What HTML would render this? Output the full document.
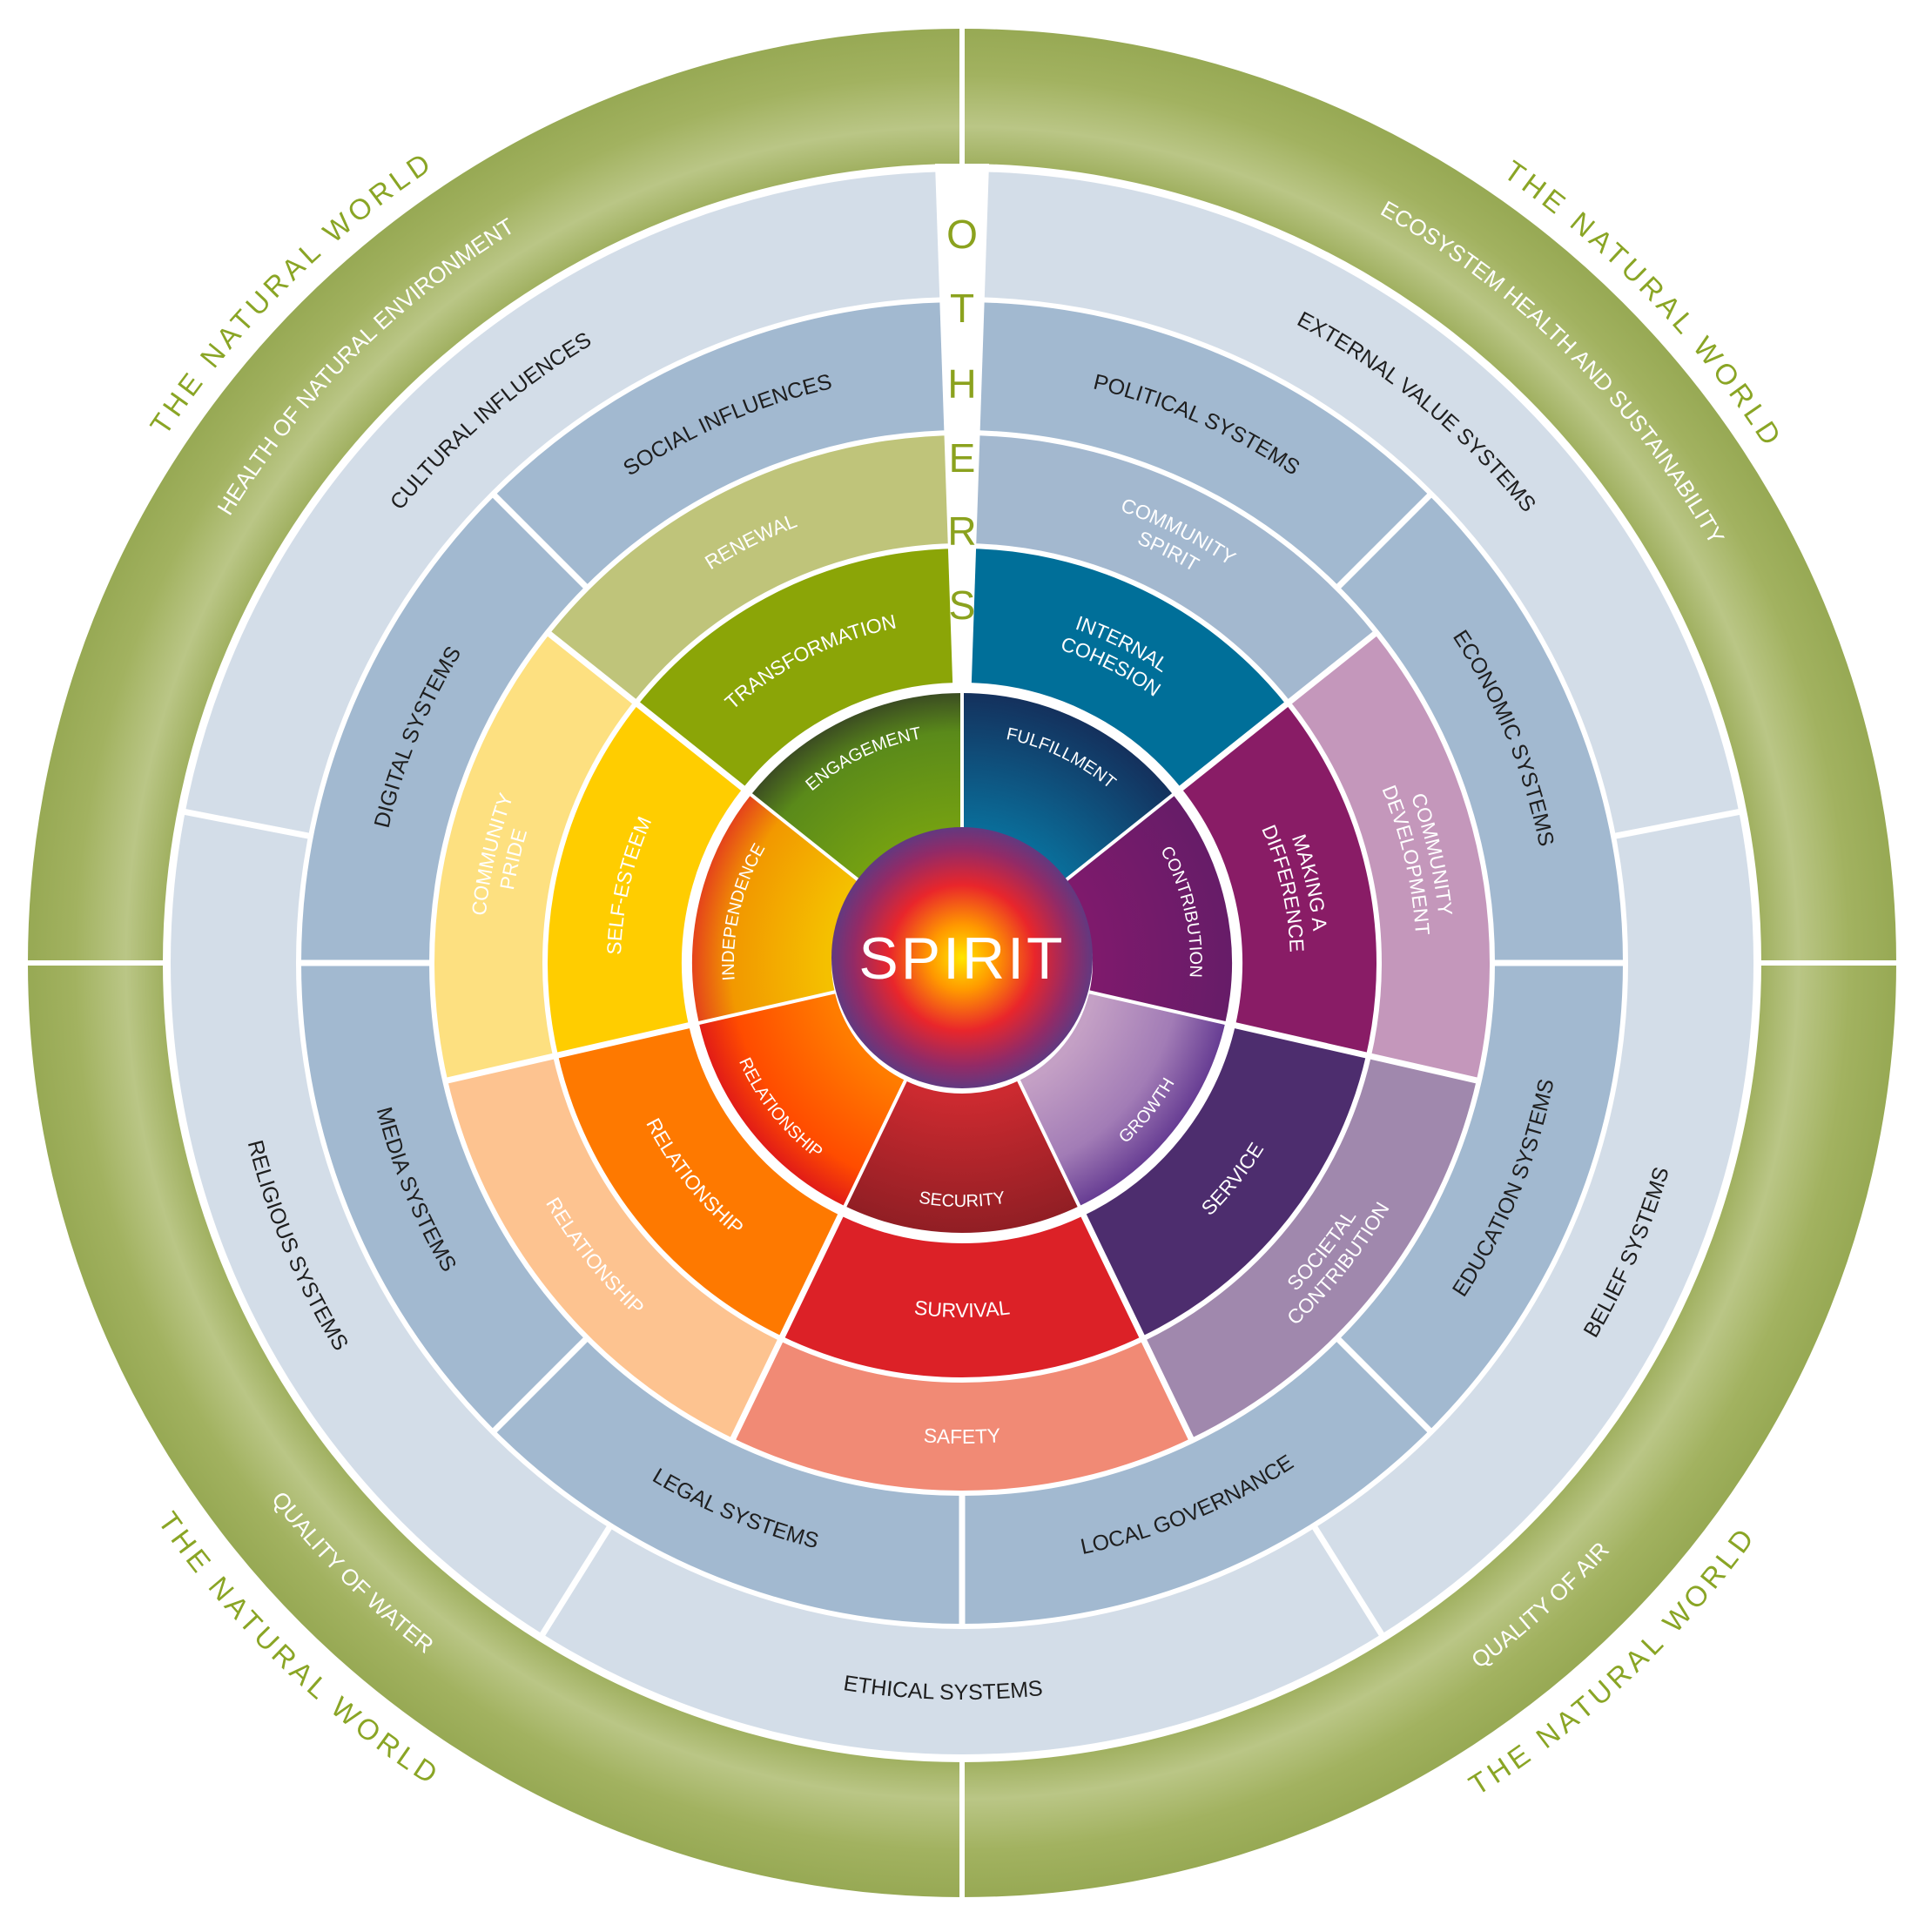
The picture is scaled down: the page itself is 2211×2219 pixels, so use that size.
<!DOCTYPE html>
<html><head><meta charset="utf-8">
<style>
html,body{margin:0;padding:0;background:#fff;}
svg{display:block;}
text{font-family:"Liberation Sans",sans-serif;}
</style></head>
<body>
<svg width="2211" height="2219" viewBox="0 0 2211 2219" xmlns="http://www.w3.org/2000/svg">
<defs>
<radialGradient id="gGreen" gradientUnits="userSpaceOnUse" cx="1105" cy="1106" r="1073">
<stop offset="0.855" stop-color="#a0b060"/><stop offset="0.895" stop-color="#bac686"/><stop offset="0.95" stop-color="#a2b260"/><stop offset="1" stop-color="#97a954"/>
</radialGradient>
<radialGradient id="gSpirit" gradientUnits="userSpaceOnUse" cx="1105" cy="1100" r="152">
<stop offset="0" stop-color="#ffe600"/><stop offset="0.25" stop-color="#ff9800"/><stop offset="0.55" stop-color="#e9262b"/><stop offset="0.82" stop-color="#932a66"/><stop offset="1" stop-color="#5e3a82"/>
</radialGradient>
<radialGradient id="gEng" gradientUnits="userSpaceOnUse" cx="1105" cy="1106" r="312"><stop offset="0.5" stop-color="#74a012"/><stop offset="0.85" stop-color="#5a8a1a"/><stop offset="1" stop-color="#3a4a22"/></radialGradient>
<radialGradient id="gFul" gradientUnits="userSpaceOnUse" cx="1105" cy="1106" r="312"><stop offset="0.5" stop-color="#0a6d99"/><stop offset="1" stop-color="#14305c"/></radialGradient>
<radialGradient id="gCon" gradientUnits="userSpaceOnUse" cx="1105" cy="1106" r="312"><stop offset="0.5" stop-color="#7e1a6c"/><stop offset="1" stop-color="#661c68"/></radialGradient>
<radialGradient id="gGro" gradientUnits="userSpaceOnUse" cx="1105" cy="1106" r="312"><stop offset="0.5" stop-color="#c4a0c5"/><stop offset="0.8" stop-color="#a27cb6"/><stop offset="1" stop-color="#653b92"/></radialGradient>
<radialGradient id="gSec" gradientUnits="userSpaceOnUse" cx="1105" cy="1106" r="312"><stop offset="0.5" stop-color="#cc2a30"/><stop offset="1" stop-color="#901e24"/></radialGradient>
<radialGradient id="gRel" gradientUnits="userSpaceOnUse" cx="1105" cy="1106" r="312"><stop offset="0.5" stop-color="#ff7c00"/><stop offset="0.85" stop-color="#ff4c00"/><stop offset="1" stop-color="#e01a18"/></radialGradient>
<radialGradient id="gInd" gradientUnits="userSpaceOnUse" cx="1105" cy="1106" r="312"><stop offset="0.5" stop-color="#f4c000"/><stop offset="0.85" stop-color="#f29800"/><stop offset="1" stop-color="#e4401c"/></radialGradient>

<path id="cw1097" d="M 8 1106 A 1097 1097 0 0 1 2202 1106"/>
<path id="cw985" d="M 120 1106 A 985 985 0 0 1 2090 1106"/>
<path id="cw828" d="M 277 1106 A 828 828 0 0 1 1933 1106"/>
<path id="cw677" d="M 428 1106 A 677 677 0 0 1 1782 1106"/>
<path id="cw550" d="M 555 1106 A 550 550 0 0 1 1655 1106"/>
<path id="cw522" d="M 583 1106 A 522 522 0 0 1 1627 1106"/>
<path id="cw536" d="M 569 1106 A 536 536 0 0 1 1641 1106"/>
<path id="cw405" d="M 700 1106 A 405 405 0 0 1 1510 1106"/>
<path id="cw377" d="M 728 1106 A 377 377 0 0 1 1482 1106"/>
<path id="cw392" d="M 713 1106 A 392 392 0 0 1 1497 1106"/>
<path id="cw262" d="M 843 1106 A 262 262 0 0 1 1367 1106"/>
<path id="ccw1125" d="M -20 1106 A 1125 1125 0 0 0 2230 1106"/>
<path id="ccw1005" d="M 100 1106 A 1005 1005 0 0 0 2110 1106"/>
<path id="ccw846" d="M 259 1106 A 846 846 0 0 0 1951 1106"/>
<path id="ccw693" d="M 412 1106 A 693 693 0 0 0 1798 1106"/>
<path id="ccw552" d="M 553 1106 A 552 552 0 0 0 1657 1106"/>
<path id="ccw538" d="M 567 1106 A 538 538 0 0 0 1643 1106"/>
<path id="ccw566" d="M 539 1106 A 566 566 0 0 0 1671 1106"/>
<path id="ccw407" d="M 698 1106 A 407 407 0 0 0 1512 1106"/>
<path id="ccw280" d="M 825 1106 A 280 280 0 0 0 1385 1106"/>
</defs>

<rect width="2211" height="2219" fill="#fff"/>

<circle cx="1105" cy="1106" r="995.5" fill="none" stroke="url(#gGreen)" stroke-width="155"/>
<g stroke="#fff" stroke-width="6">
<line x1="1105" y1="196" x2="1105" y2="20"/>
<line x1="1105" y1="2016" x2="1105" y2="2195"/>
<line x1="15" y1="1106" x2="195" y2="1106"/>
<line x1="2015" y1="1106" x2="2200" y2="1106"/>
</g>

<circle cx="1105" cy="1106" r="837" fill="none" stroke="#d3dde8" stroke-width="144"/>
<circle cx="1105" cy="1106" r="685.5" fill="none" stroke="#a2b9d0" stroke-width="147"/>

<g fill="none" stroke-width="124">
<circle cx="1105" cy="1106" r="544" pathLength="360" stroke-dasharray="51.6 308.4" transform="rotate(-90 1105 1106)" stroke="#a3b8cf"/>
<circle cx="1105" cy="1106" r="544" pathLength="360" stroke-dasharray="51.6 308.4" transform="rotate(-38.57 1105 1106)" stroke="#c497bb"/>
<circle cx="1105" cy="1106" r="544" pathLength="360" stroke-dasharray="51.6 308.4" transform="rotate(12.86 1105 1106)" stroke="#a088ad"/>
<circle cx="1105" cy="1106" r="544" pathLength="360" stroke-dasharray="51.6 308.4" transform="rotate(64.29 1105 1106)" stroke="#f18a75"/>
<circle cx="1105" cy="1106" r="544" pathLength="360" stroke-dasharray="51.6 308.4" transform="rotate(115.71 1105 1106)" stroke="#fdc390"/>
<circle cx="1105" cy="1106" r="544" pathLength="360" stroke-dasharray="51.6 308.4" transform="rotate(167.14 1105 1106)" stroke="#fde080"/>
<circle cx="1105" cy="1106" r="544" pathLength="360" stroke-dasharray="51.6 308.4" transform="rotate(218.57 1105 1106)" stroke="#bfc47a"/>
</g>
<g fill="none" stroke-width="154">
<circle cx="1105" cy="1106" r="399" pathLength="360" stroke-dasharray="51.6 308.4" transform="rotate(-90 1105 1106)" stroke="#006f99"/>
<circle cx="1105" cy="1106" r="399" pathLength="360" stroke-dasharray="51.6 308.4" transform="rotate(-38.57 1105 1106)" stroke="#891c66"/>
<circle cx="1105" cy="1106" r="399" pathLength="360" stroke-dasharray="51.6 308.4" transform="rotate(12.86 1105 1106)" stroke="#4d2d6e"/>
<circle cx="1105" cy="1106" r="399" pathLength="360" stroke-dasharray="51.6 308.4" transform="rotate(64.29 1105 1106)" stroke="#dc2127"/>
<circle cx="1105" cy="1106" r="399" pathLength="360" stroke-dasharray="51.6 308.4" transform="rotate(115.71 1105 1106)" stroke="#fe7900"/>
<circle cx="1105" cy="1106" r="399" pathLength="360" stroke-dasharray="51.6 308.4" transform="rotate(167.14 1105 1106)" stroke="#ffcd00"/>
<circle cx="1105" cy="1106" r="399" pathLength="360" stroke-dasharray="51.6 308.4" transform="rotate(218.57 1105 1106)" stroke="#8ba507"/>
</g>

<g stroke="#fff" stroke-width="7">
<line x1="1105" y1="788" x2="1105" y2="497" transform="rotate(51.43 1105 1106)"/>
<line x1="1105" y1="788" x2="1105" y2="497" transform="rotate(102.86 1105 1106)"/>
<line x1="1105" y1="788" x2="1105" y2="497" transform="rotate(154.29 1105 1106)"/>
<line x1="1105" y1="788" x2="1105" y2="497" transform="rotate(205.71 1105 1106)"/>
<line x1="1105" y1="788" x2="1105" y2="497" transform="rotate(257.14 1105 1106)"/>
<line x1="1105" y1="788" x2="1105" y2="497" transform="rotate(308.57 1105 1106)"/>
<line x1="1105" y1="497" x2="1105" y2="344" transform="rotate(45 1105 1106)"/>
<line x1="1105" y1="497" x2="1105" y2="344" transform="rotate(90 1105 1106)"/>
<line x1="1105" y1="497" x2="1105" y2="344" transform="rotate(135 1105 1106)"/>
<line x1="1105" y1="497" x2="1105" y2="344" transform="rotate(180 1105 1106)"/>
<line x1="1105" y1="497" x2="1105" y2="344" transform="rotate(225 1105 1106)"/>
<line x1="1105" y1="497" x2="1105" y2="344" transform="rotate(270 1105 1106)"/>
<line x1="1105" y1="497" x2="1105" y2="344" transform="rotate(315 1105 1106)"/>
<line x1="1105" y1="344" x2="1105" y2="192" transform="rotate(79 1105 1106)"/>
<line x1="1105" y1="344" x2="1105" y2="192" transform="rotate(148 1105 1106)"/>
<line x1="1105" y1="344" x2="1105" y2="192" transform="rotate(212 1105 1106)"/>
<line x1="1105" y1="344" x2="1105" y2="192" transform="rotate(281 1105 1106)"/>
</g>
<polygon points="1105,1106 1074,188 1136,188" fill="#fff"/>
<circle cx="1105" cy="1106" r="321" fill="#fff"/>

<g fill="none" stroke-width="160">
<circle cx="1105" cy="1106" r="230" pathLength="360" stroke-dasharray="51.6 308.4" transform="rotate(-90 1105 1106)" stroke="url(#gFul)"/>
<circle cx="1105" cy="1106" r="230" pathLength="360" stroke-dasharray="51.6 308.4" transform="rotate(-38.57 1105 1106)" stroke="url(#gCon)"/>
<circle cx="1105" cy="1106" r="230" pathLength="360" stroke-dasharray="51.6 308.4" transform="rotate(12.86 1105 1106)" stroke="url(#gGro)"/>
<circle cx="1105" cy="1106" r="230" pathLength="360" stroke-dasharray="51.6 308.4" transform="rotate(64.29 1105 1106)" stroke="url(#gSec)"/>
<circle cx="1105" cy="1106" r="230" pathLength="360" stroke-dasharray="51.6 308.4" transform="rotate(115.71 1105 1106)" stroke="url(#gRel)"/>
<circle cx="1105" cy="1106" r="230" pathLength="360" stroke-dasharray="51.6 308.4" transform="rotate(167.14 1105 1106)" stroke="url(#gInd)"/>
<circle cx="1105" cy="1106" r="230" pathLength="360" stroke-dasharray="51.6 308.4" transform="rotate(218.57 1105 1106)" stroke="url(#gEng)"/>
</g>
<g stroke="#fff" stroke-width="4">
<line x1="1105" y1="960" x2="1105" y2="792"/>
<line x1="1105" y1="960" x2="1105" y2="792" transform="rotate(51.43 1105 1106)"/>
<line x1="1105" y1="960" x2="1105" y2="792" transform="rotate(102.86 1105 1106)"/>
<line x1="1105" y1="960" x2="1105" y2="792" transform="rotate(154.29 1105 1106)"/>
<line x1="1105" y1="960" x2="1105" y2="792" transform="rotate(205.71 1105 1106)"/>
<line x1="1105" y1="960" x2="1105" y2="792" transform="rotate(257.14 1105 1106)"/>
<line x1="1105" y1="960" x2="1105" y2="792" transform="rotate(308.57 1105 1106)"/>
</g>
<circle cx="1105" cy="1100" r="150" fill="url(#gSpirit)"/>
<text x="1105" y="1124" text-anchor="middle" font-size="68" fill="#fff" letter-spacing="3">SPIRIT</text>

<g font-size="46" fill="#8ba21e" text-anchor="middle">
<text x="1105" y="285">O</text>
<text x="1105" y="370">T</text>
<text x="1105" y="457">H</text>
<text x="1105" y="542">E</text>
<text x="1105" y="626">R</text>
<text x="1105" y="711">S</text>
</g>

<g font-size="33" fill="#8aa525" letter-spacing="5">
<g transform="rotate(-45 1105 1106)"><text><textPath href="#cw1097" startOffset="50%" text-anchor="middle">THE NATURAL WORLD</textPath></text></g>
<g transform="rotate(46 1105 1106)"><text><textPath href="#cw1097" startOffset="50%" text-anchor="middle">THE NATURAL WORLD</textPath></text></g>
<g transform="rotate(-43 1105 1106)"><text><textPath href="#ccw1125" startOffset="50%" text-anchor="middle">THE NATURAL WORLD</textPath></text></g>
<g transform="rotate(44 1105 1106)"><text><textPath href="#ccw1125" startOffset="50%" text-anchor="middle">THE NATURAL WORLD</textPath></text></g>
</g>

<g font-size="26" fill="#fff">
<g transform="rotate(-45 1105 1106)"><text><textPath href="#cw985" startOffset="50%" text-anchor="middle">HEALTH OF NATURAL ENVIRONMENT</textPath></text></g>
<g transform="rotate(45 1105 1106)"><text><textPath href="#cw985" startOffset="50%" text-anchor="middle">ECOSYSTEM HEALTH AND SUSTAINABILITY</textPath></text></g>
<g transform="rotate(-42 1105 1106)"><text><textPath href="#ccw1005" startOffset="50%" text-anchor="middle">QUALITY OF AIR</textPath></text></g>
<g transform="rotate(45 1105 1106)"><text><textPath href="#ccw1005" startOffset="50%" text-anchor="middle">QUALITY OF WATER</textPath></text></g>
</g>

<g font-size="25" fill="#1e1e1e">
<g transform="rotate(-41 1105 1106)"><text><textPath href="#cw828" startOffset="50%" text-anchor="middle">CULTURAL INFLUENCES</textPath></text></g>
<g transform="rotate(39.5 1105 1106)"><text><textPath href="#cw828" startOffset="50%" text-anchor="middle">EXTERNAL VALUE SYSTEMS</textPath></text></g>
<g transform="rotate(-66.5 1105 1106)"><text><textPath href="#ccw846" startOffset="50%" text-anchor="middle">BELIEF SYSTEMS</textPath></text></g>
<g transform="rotate(1.5 1105 1106)"><text><textPath href="#ccw846" startOffset="50%" text-anchor="middle">ETHICAL SYSTEMS</textPath></text></g>
<g transform="rotate(67 1105 1106)"><text><textPath href="#ccw846" startOffset="50%" text-anchor="middle">RELIGIOUS SYSTEMS</textPath></text></g>
</g>

<g font-size="25" fill="#1e1e1e">
<g transform="rotate(-23.5 1105 1106)"><text><textPath href="#cw677" startOffset="50%" text-anchor="middle">SOCIAL INFLUENCES</textPath></text></g>
<g transform="rotate(23.5 1105 1106)"><text><textPath href="#cw677" startOffset="50%" text-anchor="middle">POLITICAL SYSTEMS</textPath></text></g>
<g transform="rotate(67.5 1105 1106)"><text><textPath href="#cw677" startOffset="50%" text-anchor="middle">ECONOMIC SYSTEMS</textPath></text></g>
<g transform="rotate(-67.5 1105 1106)"><text><textPath href="#ccw693" startOffset="50%" text-anchor="middle">EDUCATION SYSTEMS</textPath></text></g>
<g transform="rotate(-22.5 1105 1106)"><text><textPath href="#ccw693" startOffset="50%" text-anchor="middle">LOCAL GOVERNANCE</textPath></text></g>
<g transform="rotate(22.5 1105 1106)"><text><textPath href="#ccw693" startOffset="50%" text-anchor="middle">LEGAL SYSTEMS</textPath></text></g>
<g transform="rotate(67.5 1105 1106)"><text><textPath href="#ccw693" startOffset="50%" text-anchor="middle">MEDIA SYSTEMS</textPath></text></g>
<g transform="rotate(-67.5 1105 1106)"><text><textPath href="#cw677" startOffset="50%" text-anchor="middle">DIGITAL SYSTEMS</textPath></text></g>
</g>

<g font-size="23" fill="#fff">
<g transform="rotate(26.6 1105 1106)"><text><textPath href="#cw550" startOffset="50%" text-anchor="middle">COMMUNITY</textPath></text><text><textPath href="#cw522" startOffset="50%" text-anchor="middle">SPIRIT</textPath></text></g>
<g transform="rotate(77 1105 1106)"><text><textPath href="#cw550" startOffset="50%" text-anchor="middle">COMMUNITY</textPath></text><text><textPath href="#cw522" startOffset="50%" text-anchor="middle">DEVELOPMENT</textPath></text></g>
<g transform="rotate(-51.4 1105 1106)"><text><textPath href="#ccw538" startOffset="50%" text-anchor="middle">SOCIETAL</textPath></text><text><textPath href="#ccw566" startOffset="50%" text-anchor="middle">CONTRIBUTION</textPath></text></g>
<g><text><textPath href="#ccw552" startOffset="50%" text-anchor="middle">SAFETY</textPath></text></g>
<g transform="rotate(51.4 1105 1106)"><text><textPath href="#ccw552" startOffset="50%" text-anchor="middle">RELATIONSHIP</textPath></text></g>
<g transform="rotate(-77 1105 1106)"><text><textPath href="#cw550" startOffset="50%" text-anchor="middle">COMMUNITY</textPath></text><text><textPath href="#cw522" startOffset="50%" text-anchor="middle">PRIDE</textPath></text></g>
<g transform="rotate(-26.6 1105 1106)"><text><textPath href="#cw536" startOffset="50%" text-anchor="middle">RENEWAL</textPath></text></g>
</g>

<g font-size="23" fill="#fff">
<g transform="rotate(26.6 1105 1106)"><text><textPath href="#cw405" startOffset="50%" text-anchor="middle">INTERNAL</textPath></text><text><textPath href="#cw377" startOffset="50%" text-anchor="middle">COHESION</textPath></text></g>
<g transform="rotate(77 1105 1106)"><text><textPath href="#cw405" startOffset="50%" text-anchor="middle">MAKING A</textPath></text><text><textPath href="#cw377" startOffset="50%" text-anchor="middle">DIFFERENCE</textPath></text></g>
<g transform="rotate(-51.4 1105 1106)"><text><textPath href="#ccw407" startOffset="50%" text-anchor="middle">SERVICE</textPath></text></g>
<g><text><textPath href="#ccw407" startOffset="50%" text-anchor="middle">SURVIVAL</textPath></text></g>
<g transform="rotate(51.4 1105 1106)"><text><textPath href="#ccw407" startOffset="50%" text-anchor="middle">RELATIONSHIP</textPath></text></g>
<g transform="rotate(-77 1105 1106)"><text><textPath href="#cw392" startOffset="50%" text-anchor="middle">SELF-ESTEEM</textPath></text></g>
<g transform="rotate(-26.6 1105 1106)"><text><textPath href="#cw392" startOffset="50%" text-anchor="middle">TRANSFORMATION</textPath></text></g>
</g>

<g font-size="20" fill="#fff">
<g transform="rotate(-25.7 1105 1106)"><text><textPath href="#cw262" startOffset="50%" text-anchor="middle">ENGAGEMENT</textPath></text></g>
<g transform="rotate(25.7 1105 1106)"><text><textPath href="#cw262" startOffset="50%" text-anchor="middle">FULFILLMENT</textPath></text></g>
<g transform="rotate(77 1105 1106)"><text><textPath href="#cw262" startOffset="50%" text-anchor="middle">CONTRIBUTION</textPath></text></g>
<g transform="rotate(-51.4 1105 1106)"><text><textPath href="#ccw280" startOffset="50%" text-anchor="middle">GROWTH</textPath></text></g>
<g><text><textPath href="#ccw280" startOffset="50%" text-anchor="middle">SECURITY</textPath></text></g>
<g transform="rotate(51.4 1105 1106)"><text><textPath href="#ccw280" startOffset="50%" text-anchor="middle">RELATIONSHIP</textPath></text></g>
<g transform="rotate(-77 1105 1106)"><text><textPath href="#cw262" startOffset="50%" text-anchor="middle">INDEPENDENCE</textPath></text></g>
</g>
</svg>
</body></html>
